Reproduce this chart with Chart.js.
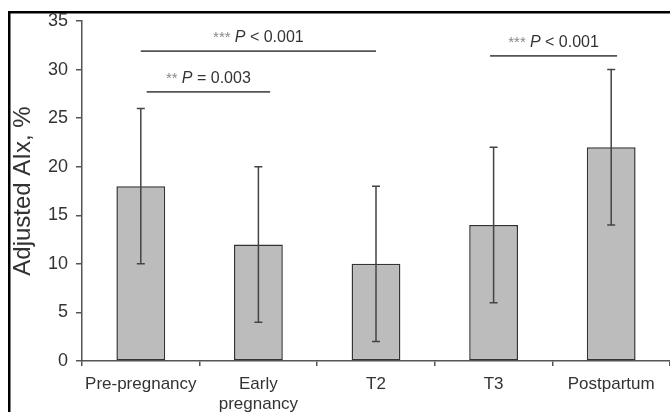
<!DOCTYPE html>
<html lang="en">
<head>
  <meta charset="UTF-8" />
  <title>Adjusted AIx</title>
  <script src="https://cdn.jsdelivr.net/npm/chart.js"></script>
  <style>
    * { margin: 0; padding: 0; box-sizing: border-box; }
    body { background: #fff; width: 670px; height: 412px; overflow: hidden; }
    .wrap { position: relative; width: 670px; height: 412px; }
  </style>
</head>
<body>
  <div class="wrap">
    <canvas id="chart" width="670" height="412"></canvas>
  </div>

  <script>
    // data
    const categories = ['Pre-pregnancy', ['Early', 'pregnancy'], 'T2', 'T3', 'Postpartum'];
    const means = [18, 12, 10, 14, 22];
    const sds = [8, 8, 8, 8, 8];
    const yTicks = [0, 5, 10, 15, 20, 25, 30, 35];

    // significance brackets (category index from/to, height in %)
    const sigFrom = [0, 0.05, 2.97];
    const sigTo = [2, 1.1, 4.05];
    const sigY = [31.9, 27.7, 31.4];
    const sigStars = ['***', '**', '***'];
    const sigText = ['< 0.001', '= 0.003', '< 0.001'];

    const FONT = "'Liberation Sans', Arial, sans-serif";

    // black frame of the cropped figure
    const framePlugin = {
      id: 'frame',
      beforeDraw(chart) {
        const c = chart.ctx;
        c.save();
        c.fillStyle = '#000';
        c.fillRect(8, 11, 670, 2.5);
        c.fillRect(8, 11, 2.5, 412);
        c.restore();
      }
    };

    // error bars with caps
    const errorBars = {
      id: 'errorBars',
      afterDatasetsDraw(chart) {
        const c = chart.ctx;
        const x = chart.scales.x, y = chart.scales.y;
        c.save();
        c.strokeStyle = '#444';
        c.lineWidth = 1.5;
        means.forEach((m, i) => {
          const px = x.getPixelForValue(i);
          const top = y.getPixelForValue(m + sds[i]);
          const bot = y.getPixelForValue(m - sds[i]);
          c.beginPath();
          c.moveTo(px, top); c.lineTo(px, bot);
          c.moveTo(px - 4, top); c.lineTo(px + 4, top);
          c.moveTo(px - 4, bot); c.lineTo(px + 4, bot);
          c.stroke();
        });
        c.restore();
      }
    };

    // significance lines and labels
    const sigPlugin = {
      id: 'sig',
      afterDraw(chart) {
        const c = chart.ctx;
        const x = chart.scales.x, y = chart.scales.y;
        c.save();
        sigFrom.forEach((f, i) => {
          const x1 = x.getPixelForValue(f);
          const x2 = x.getPixelForValue(sigTo[i]);
          const py = y.getPixelForValue(sigY[i]);
          c.strokeStyle = '#555';
          c.lineWidth = 1.8;
          c.beginPath();
          c.moveTo(x1, py); c.lineTo(x2, py);
          c.stroke();

          const parts = [
            { t: sigStars[i] + ' ', f: '15px ' + FONT, col: '#888' },
            { t: 'P', f: 'italic 16px ' + FONT, col: '#333' },
            { t: ' ' + sigText[i], f: '16px ' + FONT, col: '#333' }
          ];
          let w = 0;
          parts.forEach(p => { c.font = p.f; p.w = c.measureText(p.t).width; w += p.w; });
          let cx = (x1 + x2) / 2 - w / 2;
          c.textBaseline = 'alphabetic';
          c.textAlign = 'left';
          parts.forEach(p => {
            c.font = p.f;
            c.fillStyle = p.col;
            c.fillText(p.t, cx, py - 9);
            cx += p.w;
          });
        });
        c.restore();
      }
    };

    new Chart(document.getElementById('chart'), {
      type: 'bar',
      data: {
        labels: categories,
        datasets: [{
          data: means,
          backgroundColor: '#bcbcbc',
          borderColor: '#333',
          borderWidth: 1.5,
          borderSkipped: false,
          barPercentage: 0.415,
          categoryPercentage: 1
        }]
      },
      options: {
        responsive: false,
        animation: false,
        layout: { padding: { top: 21, right: 0, bottom: 0, left: 0 } },
        plugins: {
          legend: { display: false },
          tooltip: { enabled: false }
        },
        scales: {
          x: {
            afterFit(scale) { scale.height = 51; },
            grid: {
              offset: true,
              drawOnChartArea: false,
              drawTicks: true,
              tickLength: 5,
              color: '#555',
              lineWidth: 1.5
            },
            border: { display: true, color: '#555', width: 1.5 },
            ticks: {
              color: '#333',
              padding: 8,
              maxRotation: 0,
              autoSkip: false,
              font: { family: FONT, size: 17, lineHeight: 1.2 }
            }
          },
          y: {
            min: 0,
            max: 35,
            afterFit(scale) { scale.width = 82; },
            afterBuildTicks(scale) { scale.ticks = yTicks.map(v => ({ value: v })); },
            grid: {
              drawOnChartArea: false,
              drawTicks: true,
              tickLength: 6,
              color: '#555',
              lineWidth: 1.5
            },
            border: { display: true, color: '#555', width: 1.5 },
            ticks: {
              color: '#333',
              padding: 8,
              font: { family: FONT, size: 18 }
            },
            title: {
              display: true,
              text: 'Adjusted AIx, %',
              color: '#333',
              padding: { top: 9, bottom: 0 },
              font: { family: FONT, size: 24, lineHeight: 1.2 }
            }
          }
        }
      },
      plugins: [framePlugin, errorBars, sigPlugin]
    });
  </script>
</body>
</html>
